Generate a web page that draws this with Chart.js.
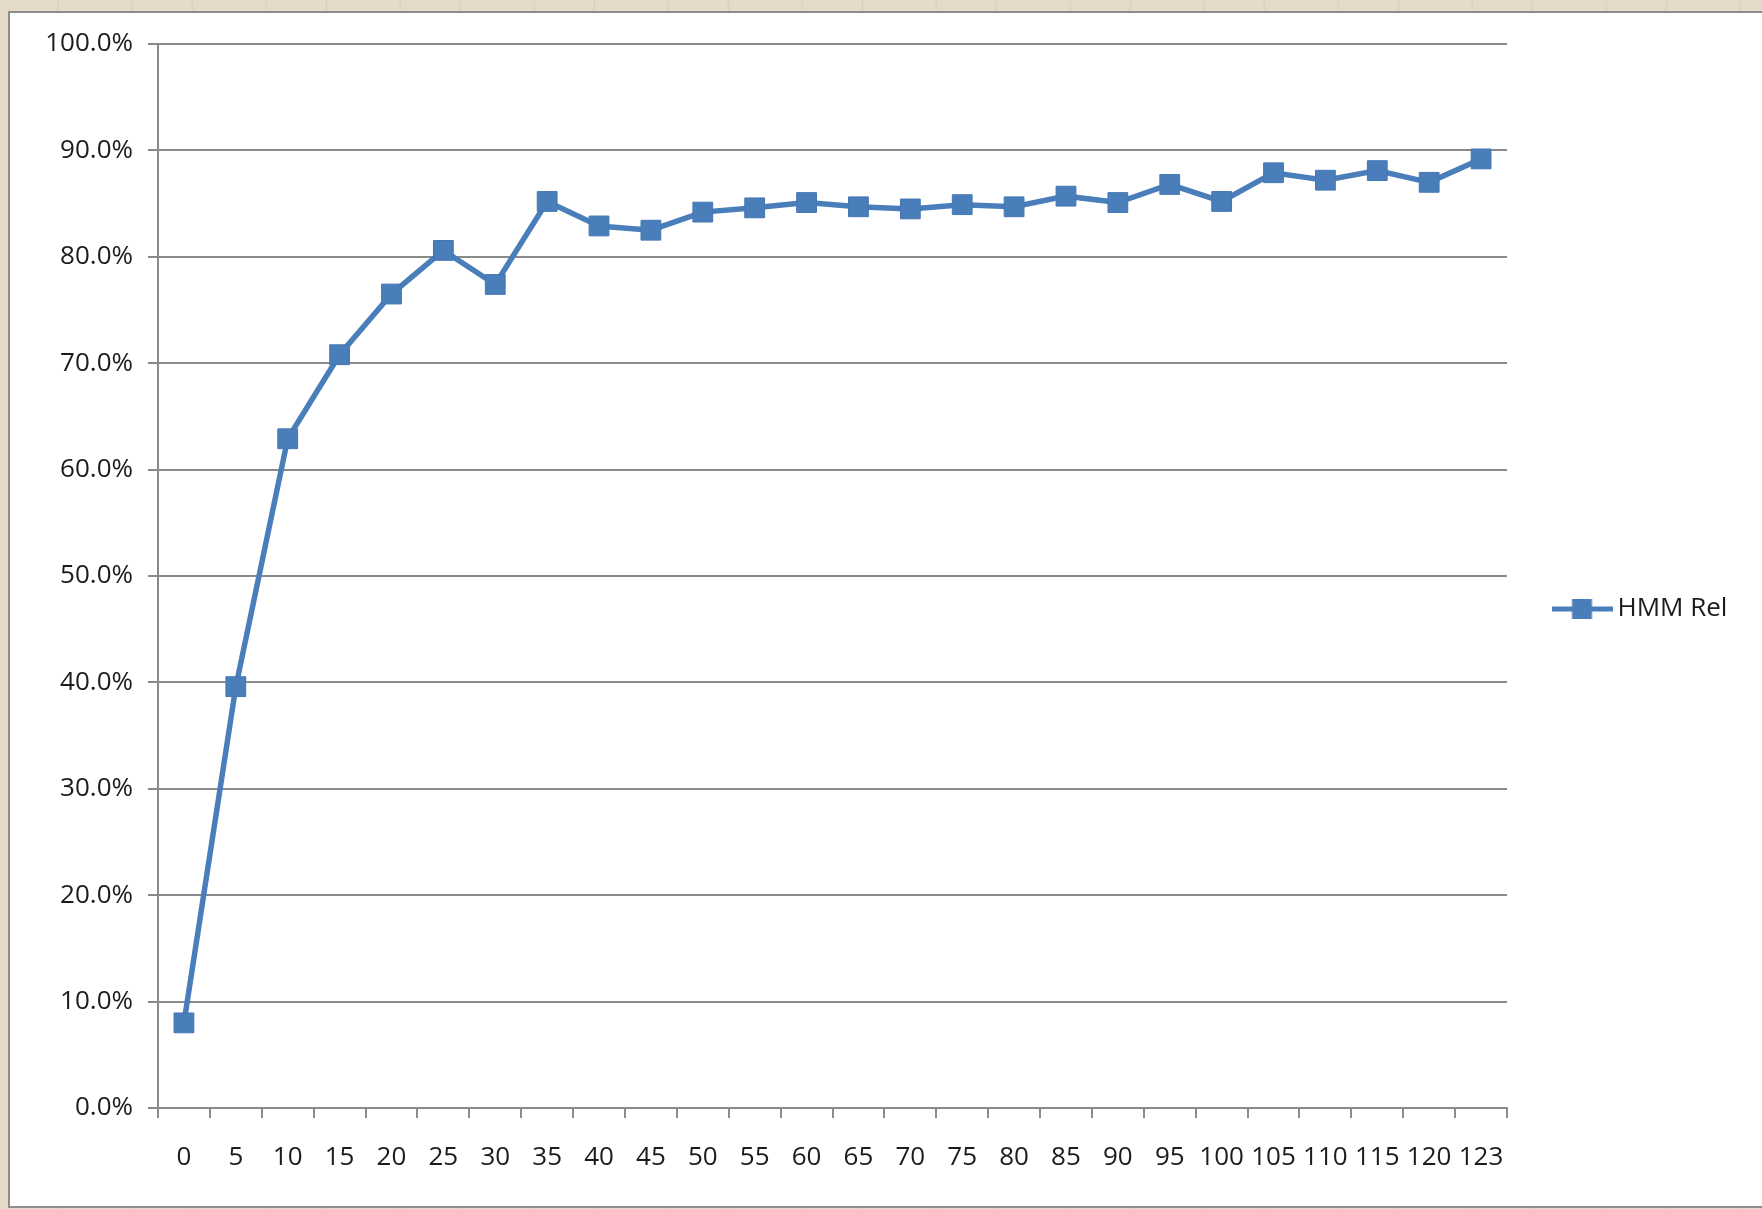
<!DOCTYPE html>
<html>
<head>
<meta charset="utf-8">
<script src="https://cdn.jsdelivr.net/npm/chart.js@4.4.1/dist/chart.umd.min.js"></script>
<style>
  html, body { margin: 0; padding: 0; width: 1762px; height: 1209px; overflow: hidden; }
  body {
    background-color: #e5dbc8;
    background-image: repeating-linear-gradient(90deg, rgba(0,0,0,0) 0px, rgba(0,0,0,0) 57px, rgba(120,100,70,0.10) 58px, rgba(0,0,0,0) 60px, rgba(0,0,0,0) 131px, rgba(120,100,70,0.08) 132px, rgba(0,0,0,0) 134px);
  }
  #frame { position: absolute; left: 8px; top: 11px; width: 1760px; height: 1193px; border: 2px solid #8d8d8d; background: #ffffff; }
  #chart { position: absolute; left: 0; top: 0; }
</style>
</head>
<body>
<div id="frame"></div>
<canvas id="chart" width="1762" height="1209"></canvas>
<script>
// Category labels along the x axis
const categories = ['0', '5', '10', '15', '20', '25', '30', '35', '40', '45', '50', '55', '60',
  '65', '70', '75', '80', '85', '90', '95', '100', '105', '110', '115', '120', '123'];

// HMM Rel series, in percent
const hmmRel = [8.0, 39.6, 62.9, 70.8, 76.5, 80.6, 77.4, 85.2, 82.9, 82.5, 84.2, 84.6, 85.1,
  84.7, 84.5, 84.9, 84.7, 85.7, 85.1, 86.8, 85.2, 87.9, 87.2, 88.1, 87.0, 89.2];

// Value axis ticks (percent)
const yTickValues = [0, 10, 20, 30, 40, 50, 60, 70, 80, 90, 100];
const yTickLabels = yTickValues.map(v => v.toFixed(1) + '%');

const seriesName = 'HMM Rel';
const blue = '#4a7ebb';
const gridGrey = '#8a8a8a';
const textColor = '#1c1c1c';
const fontFamily = "'Open Sans', 'DejaVu Sans', sans-serif";
const fontSize = 26;

// Plot-area frame
const PLOT_LEFT = 158;
const PLOT_TOP = 44;
const PLOT_RIGHT = 1507;
const PLOT_BOTTOM = 1108;
const CANVAS_H = 1209;
const BOTTOM_PAD = 35;

// Legend symbol: short line with a square marker, Excel style
function legendSymbol() {
  const c = document.createElement('canvas');
  c.width = 61; c.height = 22;
  const g = c.getContext('2d');
  g.strokeStyle = blue;
  g.lineWidth = 5;
  g.beginPath(); g.moveTo(0, 11); g.lineTo(61, 11); g.stroke();
  g.fillStyle = blue;
  g.fillRect(20.5, 1, 20, 20);
  return c;
}

Chart.defaults.font.family = fontFamily;
Chart.defaults.color = textColor;

const chart = new Chart(document.getElementById('chart'), {
  type: 'line',
  data: {
    labels: categories,
    datasets: [{
      label: seriesName,
      data: hmmRel,
      borderColor: blue,
      backgroundColor: blue,
      borderWidth: 5.5,
      tension: 0,
      fill: false,
      pointStyle: 'rect',
      pointRadius: 14,
      pointHoverRadius: 14,
      pointBackgroundColor: blue,
      pointBorderColor: '#4577b3',
      pointBorderWidth: 1
    }]
  },
  options: {
    responsive: false,
    animation: false,
    devicePixelRatio: 1,
    layout: { padding: { top: PLOT_TOP, left: 0, right: 0, bottom: BOTTOM_PAD } },
    plugins: {
      tooltip: { enabled: false },
      legend: {
        position: 'right',
        align: 'center',
        maxWidth: 1762 - PLOT_RIGHT,
        labels: {
          usePointStyle: true,
          pointStyle: legendSymbol(),
          pointStyleWidth: 45,
          padding: 52.5,
          color: textColor,
          font: { size: fontSize, family: fontFamily }
        }
      }
    },
    scales: {
      x: {
        type: 'category',
        offset: true,
        grid: {
          display: true,
          drawOnChartArea: false,
          drawTicks: true,
          tickLength: 10,
          offset: true,
          color: gridGrey,
          lineWidth: 2
        },
        border: { display: true, color: gridGrey, width: 2 },
        ticks: {
          autoSkip: false,
          maxRotation: 0,
          minRotation: 0,
          padding: 24,
          color: textColor,
          font: { size: fontSize, family: fontFamily }
        },
        afterFit(scale) { scale.height = CANVAS_H - BOTTOM_PAD - PLOT_BOTTOM; }
      },
      y: {
        min: 0,
        max: 100,
        afterBuildTicks(scale) { scale.ticks = yTickValues.map(v => ({ value: v })); },
        grid: {
          display: true,
          drawOnChartArea: true,
          drawTicks: true,
          tickLength: 10,
          color: gridGrey,
          lineWidth: 2
        },
        border: { display: true, color: gridGrey, width: 2 },
        ticks: {
          padding: 15,
          color: textColor,
          font: { size: fontSize, family: fontFamily },
          callback(value) { return yTickLabels[yTickValues.indexOf(value)]; }
        },
        afterFit(scale) { scale.width = PLOT_LEFT; }
      }
    }
  }
});

// Give the plot area its right edge by adjusting the layout padding beside the legend
const diff = chart.chartArea.right - PLOT_RIGHT;
if (Math.abs(diff) > 0.5) {
  chart.options.layout.padding.right = Math.max(0, diff);
  chart.update();
}
</script>
</body>
</html>
